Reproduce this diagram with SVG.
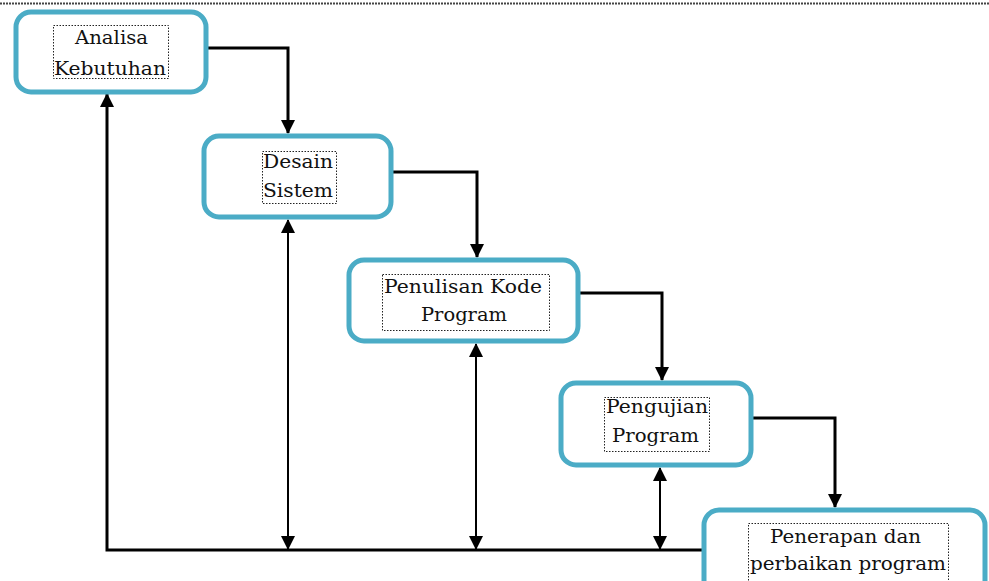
<svg xmlns="http://www.w3.org/2000/svg" width="989" height="581" viewBox="0 0 989 581">
<defs>
<marker id="ah" markerUnits="userSpaceOnUse" markerWidth="14" markerHeight="14" viewBox="0 0 14 14" refX="13" refY="7" orient="auto-start-reverse">
<path d="M0,0 L14,7 L0,14 Z" fill="#000"/>
</marker>
<style>
.box{fill:#fff;stroke:#4bacc6;stroke-width:5}
.tb{fill:none;stroke:#222;stroke-width:1;stroke-dasharray:1.5 1.5}
.t{font-family:'DejaVu Serif','Liberation Serif',serif;font-size:18px;fill:#111}
.c{fill:none;stroke:#000;stroke-width:3}
.d{fill:none;stroke:#000;stroke-width:2}
</style>
</defs>
<rect width="989" height="581" fill="#fff"/>
<line x1="0" y1="3.5" x2="989" y2="3.5" stroke="#444" stroke-width="2" stroke-dasharray="2 1"/>
<g id="connectors">
<path class="c" d="M206,48 H288 V133" marker-end="url(#ah)"/>
<path class="c" d="M391,172 H477 V257" marker-end="url(#ah)"/>
<path class="c" d="M578,293 H662 V380" marker-end="url(#ah)"/>
<path class="c" d="M751,418 H835 V507" marker-end="url(#ah)"/>
<path class="c" d="M703,550 H107 V94" marker-end="url(#ah)"/>
<line class="d" x1="288" y1="220" x2="288" y2="549" marker-start="url(#ah)" marker-end="url(#ah)"/>
<line class="d" x1="476" y1="344" x2="476" y2="549" marker-start="url(#ah)" marker-end="url(#ah)"/>
<line class="d" x1="660" y1="468" x2="660" y2="549" marker-start="url(#ah)" marker-end="url(#ah)"/>
</g>
<g id="analisa">
<rect class="box" x="16" y="12" width="190" height="80" rx="15"/>
<rect class="tb" x="53.5" y="25.5" width="115" height="53"/>
<text class="t" x="75" y="44" textLength="73" lengthAdjust="spacingAndGlyphs">Analisa</text>
<text class="t" x="54" y="75" textLength="112" lengthAdjust="spacingAndGlyphs">Kebutuhan</text>
</g>
<g id="desain">
<rect class="box" x="204" y="136" width="187" height="81" rx="15"/>
<rect class="tb" x="262.5" y="151.5" width="74" height="52"/>
<text class="t" x="263" y="168" textLength="70" lengthAdjust="spacingAndGlyphs">Desain</text>
<text class="t" x="263" y="197" textLength="70" lengthAdjust="spacingAndGlyphs">Sistem</text>
</g>
<g id="penulisan">
<rect class="box" x="349" y="260" width="229" height="81" rx="15"/>
<rect class="tb" x="382.5" y="274.5" width="167" height="56"/>
<text class="t" x="384" y="293" textLength="158" lengthAdjust="spacingAndGlyphs">Penulisan Kode</text>
<text class="t" x="421" y="321" textLength="86" lengthAdjust="spacingAndGlyphs">Program</text>
</g>
<g id="pengujian">
<rect class="box" x="561" y="383" width="190" height="82" rx="15"/>
<rect class="tb" x="604.5" y="397.5" width="105" height="54"/>
<text class="t" x="606" y="413" textLength="102" lengthAdjust="spacingAndGlyphs">Pengujian</text>
<text class="t" x="612" y="442" textLength="87" lengthAdjust="spacingAndGlyphs">Program</text>
</g>
<g id="penerapan">
<rect class="box" x="704" y="510" width="281" height="100" rx="15"/>
<rect class="tb" x="748.5" y="523.5" width="200" height="70"/>
<text class="t" x="770" y="543" textLength="151" lengthAdjust="spacingAndGlyphs">Penerapan dan</text>
<text class="t" x="750" y="570" textLength="196" lengthAdjust="spacingAndGlyphs">perbaikan program</text>
</g>
</svg>
